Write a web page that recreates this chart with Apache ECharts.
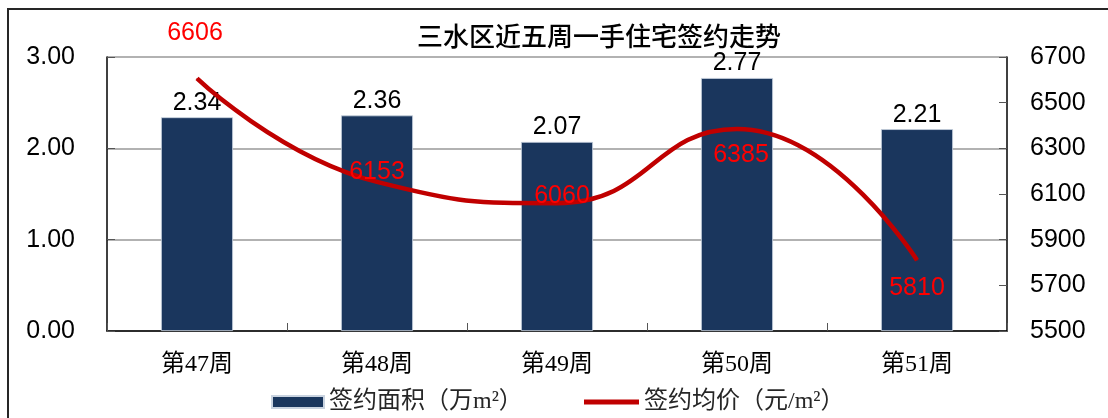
<!DOCTYPE html>
<html>
<head>
<meta charset="utf-8">
<script src="https://cdn.jsdelivr.net/npm/echarts@6/dist/echarts.min.js"></script>
<style>
html,body{margin:0;padding:0;background:#fff;}
#c{width:1108px;height:418px;}
</style>
</head>
<body>
<div id="c"></div>
<script>
const categories = ['第47周', '第48周', '第49周', '第50周', '第51周'];
const areaValues = [2.34, 2.36, 2.07, 2.77, 2.21];
const priceValues = [6606, 6153, 6060, 6385, 5810];
const priceLabelOffsets = [[-2, -45], [0, -10], [5, -7], [4, 26], [0, 28]];
const areaName = '签约面积（万m²）';
const priceName = '签约均价（元/m²）';

const chart = echarts.init(document.getElementById('c'));
const sans = "'Liberation Sans', Arial, sans-serif";
const cjk = "'Liberation Serif', 'Noto Sans CJK SC', serif";

chart.setOption({
  animation: false,
  backgroundColor: '#fff',
  graphic: [{
    type: 'rect',
    shape: { x: 8, y: 9, width: 1200, height: 500 },
    style: { fill: 'none', stroke: '#262626', lineWidth: 2 },
    silent: true, z: -10
  }],
  title: {
    text: '三水区近五周一手住宅签约走势',
    left: 594, textAlign: 'center', top: 18,
    textStyle: { fontSize: 26, fontWeight: 500, color: '#000', fontFamily: "'Noto Sans CJK SC', sans-serif" }
  },
  legend: [{
    data: [{ name: areaName, icon: 'rect' }],
    left: 266, top: 385,
    itemWidth: 52, itemHeight: 12, itemGap: 10,
    textStyle: { fontSize: 24, color: '#262626', fontFamily: cjk }
  }, {
    data: [{ name: priceName, icon: 'rect' }],
    left: 579, top: 385,
    itemWidth: 55, itemHeight: 5,
    textStyle: { fontSize: 24, color: '#262626', fontFamily: cjk }
  }],
  grid: { left: 107, right: 101, top: 57, bottom: 87, containLabel: false },
  xAxis: {
    type: 'category',
    data: categories,
    boundaryGap: true,
    axisLine: { lineStyle: { color: '#000', width: 1.5 } },
    axisTick: { show: true, inside: true, length: 8, lineStyle: { color: '#555' } },
    axisLabel: { fontSize: 24, color: '#000', margin: 22, fontFamily: cjk }
  },
  yAxis: [{
    type: 'value', min: 0, max: 3, interval: 1,
    axisLine: { show: true, lineStyle: { color: '#000', width: 1.5 } },
    axisTick: { show: true, inside: true, length: 8, lineStyle: { color: '#555' } },
    axisLabel: { fontSize: 25, color: '#000', margin: 32, fontFamily: sans, formatter: v => v.toFixed(2) },
    splitLine: { show: true, lineStyle: { color: '#999', width: 1.5 } }
  }, {
    type: 'value', min: 5500, max: 6700, interval: 200,
    position: 'right',
    axisLine: { show: true, lineStyle: { color: '#000', width: 1.5 } },
    axisTick: { show: true, inside: true, length: 8, lineStyle: { color: '#555' } },
    axisLabel: { fontSize: 25, color: '#000', margin: 23, fontFamily: sans, formatter: v => String(v) },
    splitLine: { show: false }
  }],
  series: [{
    name: areaName,
    type: 'bar',
    data: areaValues,
    barWidth: '40%',
    itemStyle: { color: '#1A365D', borderColor: '#c9d3e0', borderWidth: 0.8 },
    label: { show: true, position: 'top', distance: 2, fontSize: 25, color: '#000', fontFamily: sans, formatter: p => p.value.toFixed(2) }
  }, {
    name: priceName,
    type: 'line',
    yAxisIndex: 1,
    smooth: 0.5,
    data: priceValues.map((v, i) => ({
      value: v,
      label: { offset: priceLabelOffsets[i] }
    })),
    symbol: 'circle',
    symbolSize: 1,
    itemStyle: { color: '#C00000' },
    lineStyle: { color: '#C00000', width: 4.5 },
    label: { show: true, position: 'inside', fontSize: 25, color: '#FF0000', fontFamily: sans },
    z: 5
  }]
});
</script>
</body>
</html>
